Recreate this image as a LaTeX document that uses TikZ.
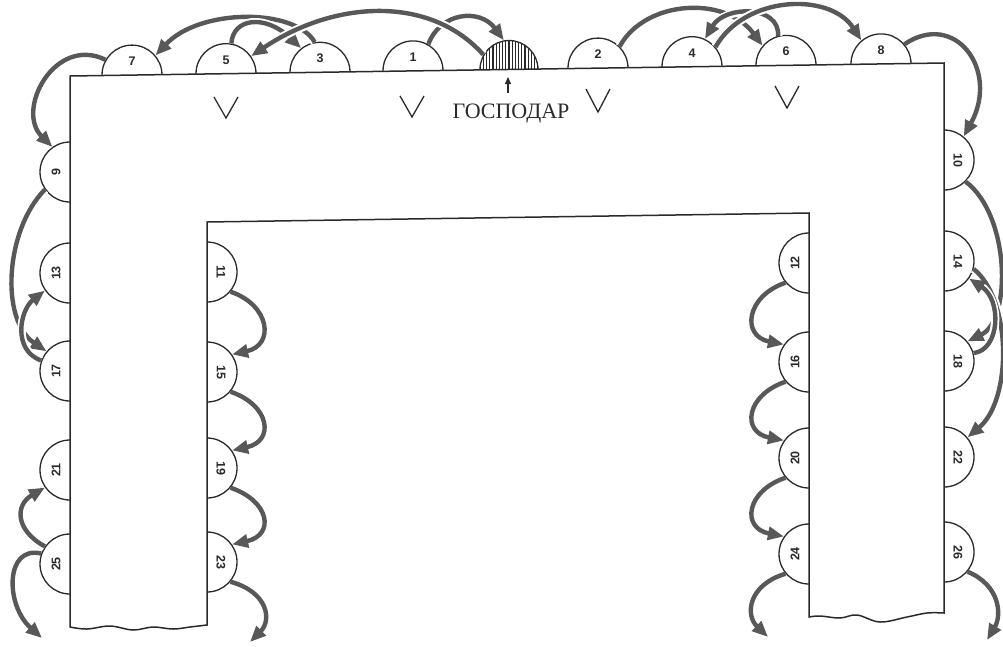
\documentclass[tikz,border=0pt]{standalone}
\usepackage{fontspec}
\setmainfont{Liberation Serif}
\newfontfamily\numfont{Liberation Sans}
\usetikzlibrary{arrows.meta}
\definecolor{arrowgray}{HTML}{585858}
\definecolor{ink}{HTML}{2A2A2A}
\begin{document}
\begin{tikzpicture}[x=1pt,y=-1pt,
  seat/.style={circle, draw=ink, line width=1.3pt, fill=white, minimum size=60pt, inner sep=0pt},
  num/.style={font=\numfont\bfseries\fontsize{12.5}{12.5}\selectfont, text=ink, inner sep=0pt},
  arr/.style={draw=arrowgray, line width=4.4pt, -{Triangle[length=16pt,width=13pt]}},
  garr/.style={arr, preaction={draw=white, line width=8.5pt, -, shorten >=13pt}},
  vmark/.style={draw=ink, line width=1.3pt, line join=miter},
  tablebody/.style={draw=ink, line width=1.5pt, fill=white, line join=miter}
]
\useasboundingbox (0,0) rectangle (1003,646);

% seats on top
\node[seat] (n7) at (132,75.1) {};
\node[seat] (n5) at (226,73.7) {};
\node[seat] (n3) at (320,72.3) {};
\node[seat] (n1) at (413,70.9) {};
\node[seat, minimum size=58pt,
  path picture={\foreach \i in {-28.8,-25.6,...,29} \draw[ink, line width=1.1pt] ([xshift=\i pt]path picture bounding box.north) -- ([xshift=\i pt]path picture bounding box.south);}] (host) at (509,69.5) {};
\node[seat] (n2) at (598,68.1) {};
\node[seat] (n4) at (692,66.7) {};
\node[seat] (n6) at (786,65.4) {};
\node[seat] (n8) at (881,63.9) {};
% left outer
\node[seat] (n9) at (70,172) {};
\node[seat] (n13) at (70,273) {};
\node[seat] (n17) at (70,371) {};
\node[seat] (n21) at (70,470) {};
\node[seat] (n25) at (70,564) {};
% inner left
\node[seat] (n11) at (207,272) {};
\node[seat] (n15) at (207,372) {};
\node[seat] (n19) at (207,468) {};
\node[seat] (n23) at (207,562) {};
% inner right
\node[seat] (n12) at (809,263) {};
\node[seat] (n16) at (809,362) {};
\node[seat] (n20) at (809,458) {};
\node[seat] (n24) at (809,554) {};
% right outer
\node[seat] (n10) at (944,160) {};
\node[seat] (n14) at (944,261) {};
\node[seat] (n18) at (944,361) {};
\node[seat] (n22) at (944,457) {};
\node[seat] (n26) at (944,552) {};

% table
\path[tablebody] (70,76) -- (944,63) -- (944,613)
  -- plot[smooth, tension=0.6] coordinates {(944,613) (927,613) (907,617) (880,622) (857,615) (840,618) (820,616) (809,617)}
  -- (809,213) -- (207,222) -- (207,625)
  -- plot[smooth, tension=0.6] coordinates {(207,625) (190,627) (173,629) (153,627) (133,630) (110,626) (87,629) (70,627)}
  -- cycle;

% labels
\node[num] (l7) at (132,61) {7};
\node[num] (l5) at (226,60) {5};
\node[num] (l3) at (320,58.5) {3};
\node[num] (l1) at (413,57) {1};
\node[num] (l2) at (598,54.5) {2};
\node[num] (l4) at (692,53) {4};
\node[num] (l6) at (786,51.5) {6};
\node[num] (l8) at (881,50) {8};
\node[num, rotate=90] (l9) at (56,172) {9};
\node[num, rotate=90] (l13) at (56,273) {13};
\node[num, rotate=90] (l17) at (56,371) {17};
\node[num, rotate=90] (l21) at (56,470) {21};
\node[num, rotate=90] (l25) at (56,564) {25};
\node[num, rotate=-90] (l11) at (221,272) {11};
\node[num, rotate=-90] (l15) at (221,372) {15};
\node[num, rotate=-90] (l19) at (221,468) {19};
\node[num, rotate=-90] (l23) at (221,562) {23};
\node[num, rotate=90] (l12) at (795,263) {12};
\node[num, rotate=90] (l16) at (795,362) {16};
\node[num, rotate=90] (l20) at (795,458) {20};
\node[num, rotate=90] (l24) at (795,554) {24};
\node[num, rotate=-90] (l10) at (958,160) {10};
\node[num, rotate=-90] (l14) at (958,261) {14};
\node[num, rotate=-90] (l18) at (958,361) {18};
\node[num, rotate=-90] (l22) at (958,457) {22};
\node[num, rotate=-90] (l26) at (958,552) {26};

% V marks
\draw[vmark] (214,97) -- (226,118) -- (238,97);
\draw[vmark] (400,96) -- (412,117) -- (424,96);
\draw[vmark] (586,89) -- (598,112) -- (610,89);
\draw[vmark] (775,86) -- (787,108) -- (799,86);

% host label
\coordinate (ha) at (508,93);
\coordinate (hb) at (508,77);
\draw[ink, line width=1.3pt, -{Triangle[length=7pt,width=6pt]}] (ha) -- (hb);
\node[font=\fontsize{22}{22}\selectfont, text=ink, inner sep=0pt] (gosp) at (511,114) {ГОСПОДАР};

% exits
\coordinate (x25) at (42,638);
\coordinate (x23) at (250,642);
\coordinate (x24) at (768,637);
\coordinate (x26) at (987,640);

% top arrows
\draw[arr] (n1.60) .. controls (440,12) and (480,8) .. (host.100);
\draw[garr] (n3.100) .. controls (295,8) and (200,8) .. (n7.40);
\draw[garr] (n5.80) .. controls (233,18) and (265,14) .. (n3.128);
\draw[garr] (host.150) .. controls (430,-5) and (335,0) .. (n5.35);
\draw[arr] (n7.150) .. controls (55,35) and (15,110) .. (n9.125);

\draw[garr] (n2.45) .. controls (645,0) and (725,-5) .. (n6.140);
\draw[garr] (n6.105) .. controls (780,5) and (725,5) .. (n4.65);
\draw[garr] (n4.40) .. controls (745,-5) and (830,-8) .. (n8.130);
\draw[arr] (n8.40) .. controls (955,10) and (1000,70) .. (n10.50);

% left outer
\draw[garr] (n9.215) .. controls (5,230) and (0,320) .. (n17.140);
\draw[garr] (n17.160) .. controls (12,350) and (20,310) .. (n13.215);
\draw[arr] (n25.160) .. controls (5,545) and (5,605) .. (x25);
\draw[garr] (n25.145) .. controls (15,530) and (15,505) .. (n21.215);

% inner left
\draw[arr] (n11.-40) .. controls (270,305) and (275,345) .. (n15.35);
\draw[arr] (n15.-40) .. controls (270,405) and (275,441) .. (n19.35);
\draw[arr] (n19.-40) .. controls (270,501) and (275,535) .. (n23.35);
\draw[arr] (n23.-40) .. controls (268,592) and (272,620) .. (x23);

% inner right
\draw[arr] (n12.220) .. controls (746,296) and (741,336) .. (n16.145);
\draw[arr] (n16.220) .. controls (746,395) and (741,432) .. (n20.145);
\draw[arr] (n20.220) .. controls (746,491) and (741,528) .. (n24.145);
\draw[arr] (n24.220) .. controls (748,585) and (745,615) .. (x24);

% right outer
\draw[garr] (n10.-45) .. controls (1010,215) and (1012,320) .. (n18.40);
\draw[garr] (n14.-15) .. controls (1012,300) and (1012,400) .. (n22.40);
\draw[garr] (n18.15) .. controls (1000,350) and (1002,300) .. (n14.-35);
\draw[arr] (n26.-40) .. controls (1000,585) and (1002,615) .. (x26);
\end{tikzpicture}
\end{document}
